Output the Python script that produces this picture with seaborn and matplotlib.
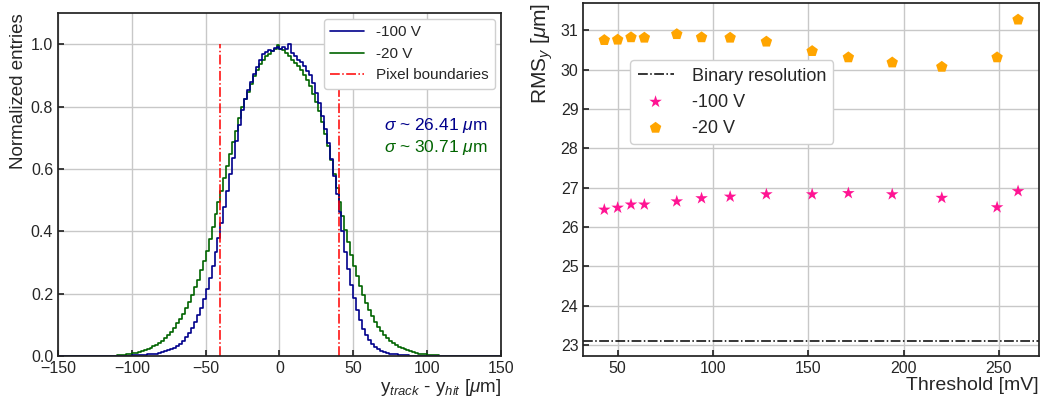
import numpy as np
import pandas as pd
import seaborn as sns
import matplotlib.pyplot as plt
from matplotlib.lines import Line2D

## DATA

# residual histograms, 2 um bins from -150 to 150 (normalised to peak)
# (nothing outside +-110, so those bins are zero)
res_bin_lo = -150
res_bin_w = 2
res_100V = [0.0] * 20 + [
    0.000, 0.000, 0.001, 0.001, 0.001, 0.002, 0.002, 0.003, 0.003, 0.004,
    0.005, 0.006, 0.007, 0.008, 0.010, 0.012, 0.015, 0.018, 0.022, 0.027,
    0.033, 0.040, 0.049, 0.060, 0.073, 0.090, 0.108, 0.130, 0.155, 0.183,
    0.215, 0.250, 0.290, 0.333, 0.378, 0.425, 0.478, 0.530, 0.583, 0.635,
    0.690, 0.742, 0.790, 0.825, 0.852, 0.880, 0.905, 0.928, 0.950, 0.968,
    0.975, 0.982, 0.978, 0.988, 0.992, 0.985, 0.990, 0.985, 1.000, 0.972,
    0.962, 0.950, 0.942, 0.930, 0.915, 0.900, 0.875, 0.845, 0.810, 0.770,
    0.728, 0.682, 0.632, 0.578, 0.520, 0.462, 0.400, 0.335, 0.280, 0.228,
    0.185, 0.148, 0.115, 0.088, 0.066, 0.050, 0.038, 0.029, 0.022, 0.017,
    0.013, 0.010, 0.008, 0.006, 0.005, 0.004, 0.003, 0.002, 0.002, 0.001,
    0.001, 0.000, 0.000, 0.000, 0.000, 0.000, 0.000, 0.000, 0.000, 0.000] + [0.0] * 20
res_20V = [0.0] * 20 + [
    0.002, 0.003, 0.004, 0.005, 0.007, 0.009, 0.011, 0.013, 0.016, 0.019,
    0.022, 0.026, 0.031, 0.036, 0.042, 0.049, 0.057, 0.067, 0.078, 0.091,
    0.105, 0.120, 0.136, 0.154, 0.174, 0.196, 0.220, 0.245, 0.275, 0.305,
    0.338, 0.375, 0.415, 0.455, 0.495, 0.530, 0.570, 0.610, 0.648, 0.685,
    0.722, 0.762, 0.800, 0.825, 0.848, 0.872, 0.898, 0.918, 0.935, 0.950,
    0.962, 0.970, 0.978, 0.985, 0.998, 0.985, 0.980, 0.972, 0.962, 0.950,
    0.940, 0.930, 0.918, 0.902, 0.885, 0.865, 0.840, 0.815, 0.785, 0.750,
    0.712, 0.672, 0.630, 0.585, 0.540, 0.495, 0.450, 0.405, 0.365, 0.325,
    0.290, 0.255, 0.225, 0.195, 0.170, 0.148, 0.128, 0.110, 0.094, 0.080,
    0.068, 0.058, 0.049, 0.042, 0.036, 0.030, 0.025, 0.021, 0.018, 0.015,
    0.012, 0.010, 0.008, 0.006, 0.005, 0.004, 0.003, 0.002, 0.002, 0.001] + [0.0] * 20
pixel_edges = [-40, 40]
sigma_100V = 26.41
sigma_20V = 30.71

# RMS vs threshold
threshold = [43, 50, 57, 64, 81, 94, 109, 128, 152, 171, 194, 220, 249, 260]
rms_100V = [26.44, 26.49, 26.57, 26.57, 26.65, 26.73, 26.77, 26.83, 26.83, 26.86,
            26.83, 26.74, 26.50, 26.91]
rms_20V = [30.75, 30.76, 30.82, 30.81, 30.90, 30.82, 30.81, 30.71, 30.47, 30.31,
           30.18, 30.07, 30.31, 31.27]
binary_res = 80 / np.sqrt(12)

# long dataframes
centres = res_bin_lo + res_bin_w / 2 + res_bin_w * np.arange(len(res_100V))
df_res = pd.concat([pd.DataFrame({'y': centres, 'w': res_100V, 'Bias': '-100 V'}),
                    pd.DataFrame({'y': centres, 'w': res_20V, 'Bias': '-20 V'})])
df_rms = pd.concat([pd.DataFrame({'Threshold': threshold, 'RMS': rms_100V, 'Bias': '-100 V'}),
                    pd.DataFrame({'Threshold': threshold, 'RMS': rms_20V, 'Bias': '-20 V'})])

## STYLE
sns.set_theme(style='ticks')
plt.rcParams['font.family'] = ['Liberation Sans', 'DejaVu Sans']
plt.rcParams['mathtext.fontset'] = 'custom'
plt.rcParams['mathtext.rm'] = 'Liberation Sans'
plt.rcParams['mathtext.it'] = 'Liberation Sans:italic'
plt.rcParams['xtick.direction'] = 'in'
plt.rcParams['ytick.direction'] = 'in'

histColors = {'-100 V': '#00008b', '-20 V': '#006400'}
gridColor = '#c8c8c8'

fig = plt.figure(figsize=(10.43, 4.01), dpi=100)
ax1 = fig.add_axes([0.0556, 0.1122, 0.4247, 0.8554])
ax2 = fig.add_axes([0.5593, 0.1122, 0.4369, 0.8800])

## LEFT: residual histograms
sns.histplot(ax=ax1, data=df_res, x='y', weights='w', hue='Bias',
             binwidth=res_bin_w, binrange=(-150, 150), element='step', fill=False,
             palette=histColors, linewidth=1.2, legend=False)
for xb in pixel_edges:
    ax1.axvline(xb, color='red', ls='-.', lw=1.1, ymax=1.0 / 1.1)

ax1.set(xlim=(-150, 150), ylim=(0, 1.1))
ax1.set_xticks(np.arange(-150, 151, 50))
ax1.set_yticks(np.arange(0, 1.01, 0.2))
ax1.set_yticklabels(['0.0', '0.2', '0.4', '0.6', '0.8', '1.0'])
ax1.grid(True, color=gridColor, lw=1)
ax1.set_axisbelow(True)
ax1.tick_params(labelsize=11.5, length=4)
ax1.set_ylabel('Normalized entries', fontsize=13.5, loc='top', labelpad=3)
ax1.set_xlabel(r'y$_{track}$ - y$_{hit}$ [$\mu$m]', fontsize=13.5, loc='right', labelpad=1)

leg_handles = [Line2D([], [], color=histColors['-100 V'], lw=1.2),
               Line2D([], [], color=histColors['-20 V'], lw=1.2),
               Line2D([], [], color='red', ls='-.', lw=1.1)]
ax1.legend(leg_handles, ['-100 V', '-20 V', 'Pixel boundaries'], loc='upper right',
           fontsize=11, framealpha=1, edgecolor='#d0d0d0', fancybox=True,
           borderaxespad=0.4, handlelength=2.2, handletextpad=0.8)

ax1.text(141, 0.739, r'$\sigma$ ~ %.2f $\mu$m' % sigma_100V, color=histColors['-100 V'],
         fontsize=12.5, ha='right', va='center')
ax1.text(141, 0.669, r'$\sigma$ ~ %.2f $\mu$m' % sigma_20V, color=histColors['-20 V'],
         fontsize=12.5, ha='right', va='center')

## RIGHT: RMS vs threshold
ax2.axhline(binary_res, color='black', ls='-.', lw=1.1, label='Binary resolution')
sns.scatterplot(ax=ax2, data=df_rms[df_rms.Bias == '-100 V'], x='Threshold', y='RMS',
                marker='*', s=90, color='#ff1493', edgecolor='none', label='-100 V')
sns.scatterplot(ax=ax2, data=df_rms[df_rms.Bias == '-20 V'], x='Threshold', y='RMS',
                marker='p', s=75, color='#ffa500', edgecolor='none', label='-20 V')

ax2.set(xlim=(32, 271), ylim=(22.72, 31.69))
ax2.set_xticks(np.arange(50, 251, 50))
ax2.set_yticks(np.arange(23, 32, 1))
ax2.grid(True, color=gridColor, lw=1)
ax2.set_axisbelow(True)
ax2.tick_params(labelsize=11.5, length=4)
ax2.set_ylabel(r'RMS$_y$ [$\mu$m]', fontsize=15, loc='top', labelpad=4)
ax2.set_xlabel('Threshold [mV]', fontsize=14, loc='right', labelpad=1)
ax2.legend(loc='upper left', bbox_to_anchor=(0.103, 0.838), borderaxespad=0,
           fontsize=13, framealpha=1, edgecolor='#d0d0d0', fancybox=True,
           scatterpoints=1, handlelength=2.0, handletextpad=1.0)

for ax in [ax1, ax2]:
    for sp in ax.spines.values():
        sp.set_color('#222222')

plt.savefig('out.png', dpi=100)
